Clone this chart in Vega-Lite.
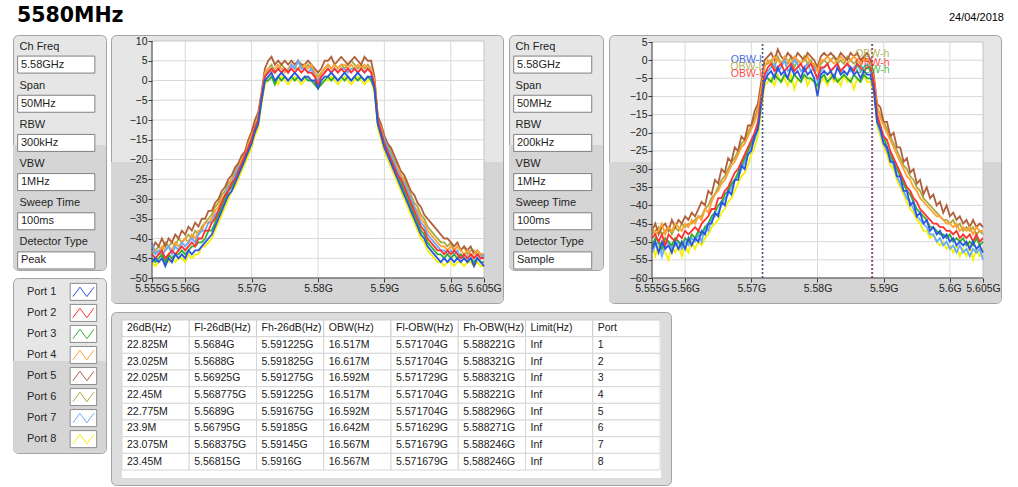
{
"$schema": "https://vega.github.io/schema/vega-lite/v6.json",
"background": "white",
"padding": {"left": 12, "top": 1, "right": 0, "bottom": 0},
"config": {
  "font": "Liberation Sans",
  "view": {"stroke": null},
  "axis": {"domain": false, "grid": false, "ticks": true, "tickColor": "#3a3a3a", "tickSize": 4, "labelFontSize": 10.5, "labelColor": "#1e1e1e", "labelPadding": 1, "labelFlush": false, "labelOverlap": false, "labelBound": false, "zindex": 1}
},
"datasets": {
  "gx": [{"gx": 5.56}, {"gx": 5.57}, {"gx": 5.58}, {"gx": 5.59}, {"gx": 5.6}],
  "gy1": [{"gy": -45}, {"gy": -40}, {"gy": -35}, {"gy": -30}, {"gy": -25}, {"gy": -20}, {"gy": -15}, {"gy": -10}, {"gy": -5}, {"gy": 0}, {"gy": 5}],
  "gy2": [{"gy": -55}, {"gy": -50}, {"gy": -45}, {"gy": -40}, {"gy": -35}, {"gy": -30}, {"gy": -25}, {"gy": -20}, {"gy": -15}, {"gy": -10}, {"gy": -5}, {"gy": 0}],
  "set1": [{"label": "Ch Freq", "val": "5.58GHz"}, {"label": "Span", "val": "50MHz"}, {"label": "RBW", "val": "300kHz"}, {"label": "VBW", "val": "1MHz"}, {"label": "Sweep Time", "val": "100ms"}, {"label": "Detector Type", "val": "Peak"}],
  "set2": [{"label": "Ch Freq", "val": "5.58GHz"}, {"label": "Span", "val": "50MHz"}, {"label": "RBW", "val": "200kHz"}, {"label": "VBW", "val": "1MHz"}, {"label": "Sweep Time", "val": "100ms"}, {"label": "Detector Type", "val": "Sample"}],
  "ports": [{"port": "p1", "name": "Port 1"}, {"port": "p2", "name": "Port 2"}, {"port": "p3", "name": "Port 3"}, {"port": "p4", "name": "Port 4"}, {"port": "p5", "name": "Port 5"}, {"port": "p6", "name": "Port 6"}, {"port": "p7", "name": "Port 7"}, {"port": "p8", "name": "Port 8"}],
  "hdr": [{"r": "h", "c1": "26dB(Hz)", "c2": "Fl-26dB(Hz)", "c3": "Fh-26dB(Hz)", "c4": "OBW(Hz)", "c5": "Fl-OBW(Hz)", "c6": "Fh-OBW(Hz)", "c7": "Limit(Hz)", "c8": "Port"}],
  "tbl": [
    {"r": "1", "port": "p1", "c1": "22.825M", "c2": "5.5684G", "c3": "5.591225G", "c4": "16.517M", "c5": "5.571704G", "c6": "5.588221G", "c7": "Inf", "c8": "1", "fl": 5.571704, "fh": 5.588221},
    {"r": "2", "port": "p2", "c1": "23.025M", "c2": "5.5688G", "c3": "5.591825G", "c4": "16.617M", "c5": "5.571704G", "c6": "5.588321G", "c7": "Inf", "c8": "2", "fl": 5.571704, "fh": 5.588321},
    {"r": "3", "port": "p3", "c1": "22.025M", "c2": "5.56925G", "c3": "5.591275G", "c4": "16.592M", "c5": "5.571729G", "c6": "5.588321G", "c7": "Inf", "c8": "3", "fl": 5.571729, "fh": 5.588321},
    {"r": "4", "port": "p4", "c1": "22.45M", "c2": "5.568775G", "c3": "5.591225G", "c4": "16.517M", "c5": "5.571704G", "c6": "5.588221G", "c7": "Inf", "c8": "4", "fl": 5.571704, "fh": 5.588221},
    {"r": "5", "port": "p5", "c1": "22.775M", "c2": "5.5689G", "c3": "5.591675G", "c4": "16.592M", "c5": "5.571704G", "c6": "5.588296G", "c7": "Inf", "c8": "5", "fl": 5.571704, "fh": 5.588296},
    {"r": "6", "port": "p6", "c1": "23.9M", "c2": "5.56795G", "c3": "5.59185G", "c4": "16.642M", "c5": "5.571629G", "c6": "5.588271G", "c7": "Inf", "c8": "6", "fl": 5.571629, "fh": 5.588271},
    {"r": "7", "port": "p7", "c1": "23.075M", "c2": "5.568375G", "c3": "5.59145G", "c4": "16.567M", "c5": "5.571679G", "c6": "5.588246G", "c7": "Inf", "c8": "7", "fl": 5.571679, "fh": 5.588246},
    {"r": "8", "port": "p8", "c1": "23.45M", "c2": "5.56815G", "c3": "5.5916G", "c4": "16.567M", "c5": "5.571679G", "c6": "5.588246G", "c7": "Inf", "c8": "8", "fl": 5.571679, "fh": 5.588246}
  ],
  "obw": [
    {"lab": "OBW-l", "port": "p1", "f": 5.571704, "v": 0},
    {"lab": "OBW-l", "port": "p6", "f": 5.571629, "v": -1.8},
    {"lab": "OBW-l", "port": "p2", "f": 5.571704, "v": -3.8},
    {"lab": "OBW-h", "port": "p6", "f": 5.588271, "v": 1.7},
    {"lab": "OBW-h", "port": "p2", "f": 5.588321, "v": -0.9},
    {"lab": "OBW-h", "port": "p3", "f": 5.588321, "v": -2.7}
  ],
  "s1": [
    {"f":5.555,"p1":-46,"p2":-44,"p3":-45,"p4":-42,"p5":-43,"p6":-44,"p7":-41,"p8":-46},
    {"f":5.5555,"p1":-45,"p2":-45,"p3":-46,"p4":-43,"p5":-41,"p6":-43,"p7":-44,"p8":-47},
    {"f":5.556,"p1":-46,"p2":-44,"p3":-45,"p4":-44,"p5":-42,"p6":-42,"p7":-43,"p8":-46},
    {"f":5.5565,"p1":-45,"p2":-43,"p3":-44,"p4":-42,"p5":-40,"p6":-43,"p7":-44,"p8":-45},
    {"f":5.557,"p1":-47,"p2":-45,"p3":-46,"p4":-43,"p5":-42,"p6":-41,"p7":-43,"p8":-46},
    {"f":5.5575,"p1":-45,"p2":-44,"p3":-44,"p4":-42,"p5":-40,"p6":-42,"p7":-42,"p8":-46},
    {"f":5.558,"p1":-46,"p2":-43,"p3":-45,"p4":-43,"p5":-41,"p6":-41,"p7":-44,"p8":-45},
    {"f":5.5585,"p1":-44,"p2":-44,"p3":-44,"p4":-41,"p5":-39,"p6":-42,"p7":-42,"p8":-46},
    {"f":5.559,"p1":-45,"p2":-43,"p3":-44,"p4":-42,"p5":-40,"p6":-40,"p7":-43,"p8":-45},
    {"f":5.5595,"p1":-44,"p2":-42,"p3":-43,"p4":-41,"p5":-38,"p6":-41,"p7":-41,"p8":-45},
    {"f":5.56,"p1":-45,"p2":-43,"p3":-44,"p4":-40,"p5":-39,"p6":-40,"p7":-42,"p8":-46},
    {"f":5.5605,"p1":-43,"p2":-42,"p3":-43,"p4":-41,"p5":-37,"p6":-39,"p7":-41,"p8":-44},
    {"f":5.561,"p1":-44,"p2":-41,"p3":-42,"p4":-39,"p5":-38,"p6":-40,"p7":-40,"p8":-45},
    {"f":5.5615,"p1":-43,"p2":-42,"p3":-42,"p4":-40,"p5":-36,"p6":-38,"p7":-41,"p8":-44},
    {"f":5.562,"p1":-43,"p2":-40,"p3":-41,"p4":-38,"p5":-37,"p6":-39,"p7":-39,"p8":-44},
    {"f":5.5625,"p1":-42,"p2":-40,"p3":-41,"p4":-38,"p5":-35,"p6":-37,"p7":-38,"p8":-42},
    {"f":5.563,"p1":-41,"p2":-38,"p3":-40,"p4":-36,"p5":-35,"p6":-36,"p7":-38,"p8":-42},
    {"f":5.5635,"p1":-40,"p2":-38,"p3":-38,"p4":-36,"p5":-33,"p6":-35,"p7":-36,"p8":-41},
    {"f":5.564,"p1":-39,"p2":-36,"p3":-38,"p4":-35,"p5":-33,"p6":-34,"p7":-36,"p8":-40},
    {"f":5.5645,"p1":-37,"p2":-35,"p3":-36,"p4":-33,"p5":-31,"p6":-32,"p7":-34,"p8":-38},
    {"f":5.565,"p1":-35,"p2":-33,"p3":-34,"p4":-32,"p5":-30,"p6":-31,"p7":-33,"p8":-36},
    {"f":5.5655,"p1":-33,"p2":-31,"p3":-32,"p4":-30,"p5":-28,"p6":-29,"p7":-31,"p8":-34},
    {"f":5.566,"p1":-31,"p2":-29,"p3":-30,"p4":-29,"p5":-27,"p6":-28,"p7":-29,"p8":-32},
    {"f":5.5665,"p1":-29,"p2":-28,"p3":-28,"p4":-27,"p5":-25,"p6":-26,"p7":-27,"p8":-30},
    {"f":5.567,"p1":-28,"p2":-26,"p3":-27,"p4":-25,"p5":-24,"p6":-25,"p7":-26,"p8":-28},
    {"f":5.5675,"p1":-26,"p2":-25,"p3":-25,"p4":-24,"p5":-22,"p6":-23,"p7":-24,"p8":-27},
    {"f":5.568,"p1":-24,"p2":-23,"p3":-23,"p4":-22,"p5":-21,"p6":-21,"p7":-22,"p8":-25},
    {"f":5.5685,"p1":-22,"p2":-21,"p3":-22,"p4":-20,"p5":-19,"p6":-20,"p7":-21,"p8":-23},
    {"f":5.569,"p1":-20,"p2":-19,"p3":-20,"p4":-19,"p5":-18,"p6":-18,"p7":-19,"p8":-21},
    {"f":5.5695,"p1":-18,"p2":-17,"p3":-17,"p4":-16,"p5":-15,"p6":-16,"p7":-17,"p8":-19},
    {"f":5.57,"p1":-16,"p2":-15,"p3":-15,"p4":-14,"p5":-13,"p6":-14,"p7":-15,"p8":-17},
    {"f":5.5705,"p1":-13,"p2":-12,"p3":-13,"p4":-12,"p5":-10,"p6":-11,"p7":-12,"p8":-14},
    {"f":5.571,"p1":-11,"p2":-10,"p3":-10,"p4":-9,"p5":-8,"p6":-9,"p7":-10,"p8":-12},
    {"f":5.5715,"p1":-5,"p2":-4,"p3":-5,"p4":-4,"p5":-3,"p6":-4,"p7":-4,"p8":-6},
    {"f":5.572,"p1":0,"p2":1,"p3":0,"p4":2,"p5":3,"p6":1,"p7":1,"p8":-1},
    {"f":5.5725,"p1":1,"p2":2,"p3":0,"p4":3,"p5":5,"p6":3,"p7":2,"p8":0},
    {"f":5.573,"p1":2,"p2":3,"p3":1,"p4":2,"p5":6,"p6":4,"p7":3,"p8":1},
    {"f":5.5735,"p1":0,"p2":2,"p3":-1,"p4":3,"p5":4,"p6":2,"p7":2,"p8":0},
    {"f":5.574,"p1":1,"p2":3,"p3":1,"p4":4,"p5":5,"p6":3,"p7":3,"p8":-1},
    {"f":5.5745,"p1":2,"p2":2,"p3":0,"p4":3,"p5":4,"p6":4,"p7":2,"p8":1},
    {"f":5.575,"p1":1,"p2":3,"p3":1,"p4":2,"p5":5,"p6":3,"p7":3,"p8":0},
    {"f":5.5755,"p1":0,"p2":2,"p3":0,"p4":3,"p5":4,"p6":2,"p7":2,"p8":-1},
    {"f":5.576,"p1":1,"p2":3,"p3":1,"p4":4,"p5":5,"p6":4,"p7":4,"p8":0},
    {"f":5.5765,"p1":2,"p2":2,"p3":0,"p4":3,"p5":4,"p6":3,"p7":3,"p8":1},
    {"f":5.577,"p1":1,"p2":3,"p3":1,"p4":5,"p5":5,"p6":3,"p7":5,"p8":0},
    {"f":5.5775,"p1":0,"p2":2,"p3":0,"p4":3,"p5":4,"p6":4,"p7":3,"p8":-1},
    {"f":5.578,"p1":1,"p2":3,"p3":1,"p4":4,"p5":4,"p6":3,"p7":3,"p8":0},
    {"f":5.5785,"p1":1,"p2":2,"p3":0,"p4":3,"p5":5,"p6":4,"p7":2,"p8":1},
    {"f":5.579,"p1":0,"p2":2,"p3":0,"p4":4,"p5":4,"p6":3,"p7":3,"p8":0},
    {"f":5.5795,"p1":0,"p2":1,"p3":-1,"p4":2,"p5":3,"p6":2,"p7":1,"p8":-1},
    {"f":5.58,"p1":-2,"p2":-1,"p3":-2,"p4":0,"p5":2,"p6":1,"p7":0,"p8":-2},
    {"f":5.5805,"p1":0,"p2":1,"p3":-1,"p4":2,"p5":3,"p6":2,"p7":1,"p8":-1},
    {"f":5.581,"p1":1,"p2":2,"p3":0,"p4":3,"p5":5,"p6":3,"p7":2,"p8":0},
    {"f":5.5815,"p1":1,"p2":3,"p3":1,"p4":4,"p5":5,"p6":4,"p7":3,"p8":0},
    {"f":5.582,"p1":2,"p2":2,"p3":0,"p4":3,"p5":6,"p6":3,"p7":2,"p8":1},
    {"f":5.5825,"p1":1,"p2":3,"p3":1,"p4":4,"p5":4,"p6":4,"p7":3,"p8":0},
    {"f":5.583,"p1":0,"p2":2,"p3":0,"p4":3,"p5":5,"p6":3,"p7":2,"p8":-1},
    {"f":5.5835,"p1":1,"p2":3,"p3":1,"p4":4,"p5":6,"p6":4,"p7":3,"p8":0},
    {"f":5.584,"p1":2,"p2":2,"p3":0,"p4":4,"p5":5,"p6":3,"p7":3,"p8":1},
    {"f":5.5845,"p1":1,"p2":3,"p3":1,"p4":3,"p5":4,"p6":4,"p7":2,"p8":0},
    {"f":5.585,"p1":0,"p2":2,"p3":0,"p4":4,"p5":5,"p6":5,"p7":3,"p8":-1},
    {"f":5.5855,"p1":1,"p2":3,"p3":1,"p4":3,"p5":6,"p6":4,"p7":3,"p8":0},
    {"f":5.586,"p1":2,"p2":2,"p3":0,"p4":4,"p5":5,"p6":3,"p7":2,"p8":1},
    {"f":5.5865,"p1":1,"p2":3,"p3":1,"p4":3,"p5":4,"p6":4,"p7":3,"p8":0},
    {"f":5.587,"p1":0,"p2":2,"p3":0,"p4":4,"p5":6,"p6":3,"p7":2,"p8":-1},
    {"f":5.5875,"p1":1,"p2":3,"p3":1,"p4":3,"p5":5,"p6":4,"p7":3,"p8":0},
    {"f":5.588,"p1":1,"p2":2,"p3":0,"p4":3,"p5":5,"p6":3,"p7":2,"p8":0},
    {"f":5.5885,"p1":-2,"p2":-1,"p3":-2,"p4":0,"p5":1,"p6":0,"p7":-1,"p8":-3},
    {"f":5.589,"p1":-11,"p2":-10,"p3":-11,"p4":-10,"p5":-9,"p6":-9,"p7":-10,"p8":-12},
    {"f":5.5895,"p1":-14,"p2":-13,"p3":-13,"p4":-12,"p5":-11,"p6":-12,"p7":-13,"p8":-15},
    {"f":5.59,"p1":-17,"p2":-16,"p3":-16,"p4":-15,"p5":-14,"p6":-15,"p7":-15,"p8":-18},
    {"f":5.5905,"p1":-19,"p2":-18,"p3":-18,"p4":-17,"p5":-16,"p6":-16,"p7":-17,"p8":-20},
    {"f":5.591,"p1":-21,"p2":-20,"p3":-20,"p4":-19,"p5":-17,"p6":-18,"p7":-19,"p8":-22},
    {"f":5.5915,"p1":-23,"p2":-22,"p3":-22,"p4":-21,"p5":-19,"p6":-20,"p7":-21,"p8":-24},
    {"f":5.592,"p1":-25,"p2":-24,"p3":-24,"p4":-22,"p5":-21,"p6":-22,"p7":-23,"p8":-26},
    {"f":5.5925,"p1":-27,"p2":-25,"p3":-26,"p4":-24,"p5":-23,"p6":-24,"p7":-25,"p8":-28},
    {"f":5.593,"p1":-29,"p2":-27,"p3":-28,"p4":-26,"p5":-24,"p6":-25,"p7":-26,"p8":-30},
    {"f":5.5935,"p1":-31,"p2":-29,"p3":-30,"p4":-28,"p5":-26,"p6":-27,"p7":-28,"p8":-32},
    {"f":5.594,"p1":-33,"p2":-31,"p3":-32,"p4":-30,"p5":-28,"p6":-29,"p7":-30,"p8":-34},
    {"f":5.5945,"p1":-35,"p2":-33,"p3":-34,"p4":-32,"p5":-29,"p6":-31,"p7":-32,"p8":-36},
    {"f":5.595,"p1":-37,"p2":-35,"p3":-36,"p4":-33,"p5":-31,"p6":-32,"p7":-34,"p8":-38},
    {"f":5.5955,"p1":-39,"p2":-37,"p3":-38,"p4":-35,"p5":-32,"p6":-34,"p7":-36,"p8":-40},
    {"f":5.596,"p1":-40,"p2":-38,"p3":-39,"p4":-36,"p5":-34,"p6":-35,"p7":-37,"p8":-41},
    {"f":5.5965,"p1":-42,"p2":-40,"p3":-41,"p4":-38,"p5":-35,"p6":-37,"p7":-39,"p8":-43},
    {"f":5.597,"p1":-43,"p2":-41,"p3":-42,"p4":-39,"p5":-36,"p6":-38,"p7":-40,"p8":-44},
    {"f":5.5975,"p1":-44,"p2":-42,"p3":-43,"p4":-40,"p5":-37,"p6":-39,"p7":-41,"p8":-45},
    {"f":5.598,"p1":-45,"p2":-43,"p3":-44,"p4":-41,"p5":-38,"p6":-40,"p7":-42,"p8":-46},
    {"f":5.5985,"p1":-46,"p2":-43,"p3":-44,"p4":-42,"p5":-39,"p6":-41,"p7":-43,"p8":-46},
    {"f":5.599,"p1":-45,"p2":-44,"p3":-45,"p4":-42,"p5":-40,"p6":-41,"p7":-43,"p8":-47},
    {"f":5.5995,"p1":-46,"p2":-43,"p3":-44,"p4":-43,"p5":-40,"p6":-42,"p7":-44,"p8":-46},
    {"f":5.6,"p1":-45,"p2":-44,"p3":-45,"p4":-42,"p5":-41,"p6":-41,"p7":-43,"p8":-46},
    {"f":5.6005,"p1":-46,"p2":-43,"p3":-44,"p4":-43,"p5":-42,"p6":-43,"p7":-44,"p8":-47},
    {"f":5.601,"p1":-45,"p2":-44,"p3":-45,"p4":-42,"p5":-41,"p6":-42,"p7":-43,"p8":-46},
    {"f":5.6015,"p1":-46,"p2":-45,"p3":-44,"p4":-43,"p5":-43,"p6":-43,"p7":-45,"p8":-46},
    {"f":5.602,"p1":-45,"p2":-44,"p3":-45,"p4":-44,"p5":-42,"p6":-42,"p7":-44,"p8":-47},
    {"f":5.6025,"p1":-46,"p2":-45,"p3":-46,"p4":-43,"p5":-43,"p6":-44,"p7":-45,"p8":-46},
    {"f":5.603,"p1":-45,"p2":-44,"p3":-45,"p4":-44,"p5":-42,"p6":-43,"p7":-44,"p8":-46},
    {"f":5.6035,"p1":-47,"p2":-45,"p3":-46,"p4":-44,"p5":-44,"p6":-43,"p7":-45,"p8":-47},
    {"f":5.604,"p1":-45,"p2":-44,"p3":-45,"p4":-43,"p5":-43,"p6":-44,"p7":-44,"p8":-46},
    {"f":5.6045,"p1":-46,"p2":-45,"p3":-46,"p4":-44,"p5":-44,"p6":-44,"p7":-45,"p8":-47},
    {"f":5.605,"p1":-47,"p2":-45,"p3":-46,"p4":-44,"p5":-44,"p6":-45,"p7":-44,"p8":-47}
  ],
  "s2": [
    {"f":5.555,"p1":-52,"p2":-49,"p3":-51,"p4":-46,"p5":-47,"p6":-48,"p7":-53,"p8":-50},
    {"f":5.5555,"p1":-50,"p2":-48,"p3":-49,"p4":-48,"p5":-45,"p6":-47,"p7":-51,"p8":-54},
    {"f":5.556,"p1":-53,"p2":-50,"p3":-50,"p4":-47,"p5":-48,"p6":-46,"p7":-50,"p8":-51},
    {"f":5.5565,"p1":-50,"p2":-48,"p3":-52,"p4":-45,"p5":-46,"p6":-48,"p7":-54,"p8":-50},
    {"f":5.557,"p1":-52,"p2":-51,"p3":-49,"p4":-48,"p5":-45,"p6":-47,"p7":-51,"p8":-53},
    {"f":5.5575,"p1":-51,"p2":-48,"p3":-50,"p4":-46,"p5":-47,"p6":-46,"p7":-50,"p8":-55},
    {"f":5.558,"p1":-53,"p2":-49,"p3":-51,"p4":-47,"p5":-44,"p6":-48,"p7":-52,"p8":-51},
    {"f":5.5585,"p1":-50,"p2":-50,"p3":-49,"p4":-45,"p5":-46,"p6":-46,"p7":-51,"p8":-53},
    {"f":5.559,"p1":-52,"p2":-48,"p3":-50,"p4":-46,"p5":-44,"p6":-47,"p7":-50,"p8":-51},
    {"f":5.5595,"p1":-50,"p2":-49,"p3":-51,"p4":-47,"p5":-45,"p6":-45,"p7":-52,"p8":-54},
    {"f":5.56,"p1":-52,"p2":-47,"p3":-49,"p4":-45,"p5":-43,"p6":-46,"p7":-50,"p8":-51},
    {"f":5.5605,"p1":-49,"p2":-48,"p3":-50,"p4":-46,"p5":-44,"p6":-45,"p7":-51,"p8":-53},
    {"f":5.561,"p1":-51,"p2":-47,"p3":-48,"p4":-44,"p5":-42,"p6":-45,"p7":-49,"p8":-50},
    {"f":5.5615,"p1":-49,"p2":-46,"p3":-49,"p4":-45,"p5":-43,"p6":-44,"p7":-50,"p8":-52},
    {"f":5.562,"p1":-50,"p2":-47,"p3":-47,"p4":-43,"p5":-41,"p6":-43,"p7":-48,"p8":-50},
    {"f":5.5625,"p1":-47,"p2":-45,"p3":-48,"p4":-44,"p5":-39,"p6":-43,"p7":-50,"p8":-51},
    {"f":5.563,"p1":-48,"p2":-44,"p3":-46,"p4":-41,"p5":-40,"p6":-41,"p7":-46,"p8":-49},
    {"f":5.5635,"p1":-45,"p2":-43,"p3":-45,"p4":-42,"p5":-36,"p6":-40,"p7":-47,"p8":-48},
    {"f":5.564,"p1":-45,"p2":-41,"p3":-43,"p4":-39,"p5":-37,"p6":-38,"p7":-44,"p8":-46},
    {"f":5.5645,"p1":-42,"p2":-41,"p3":-42,"p4":-37,"p5":-33,"p6":-37,"p7":-43,"p8":-45},
    {"f":5.565,"p1":-43,"p2":-38,"p3":-40,"p4":-36,"p5":-34,"p6":-35,"p7":-42,"p8":-44},
    {"f":5.5655,"p1":-39,"p2":-38,"p3":-39,"p4":-34,"p5":-30,"p6":-33,"p7":-40,"p8":-42},
    {"f":5.566,"p1":-40,"p2":-36,"p3":-37,"p4":-33,"p5":-31,"p6":-32,"p7":-38,"p8":-41},
    {"f":5.5665,"p1":-36,"p2":-35,"p3":-36,"p4":-31,"p5":-27,"p6":-30,"p7":-37,"p8":-39},
    {"f":5.567,"p1":-37,"p2":-33,"p3":-34,"p4":-29,"p5":-28,"p6":-28,"p7":-35,"p8":-38},
    {"f":5.5675,"p1":-33,"p2":-31,"p3":-33,"p4":-28,"p5":-24,"p6":-27,"p7":-33,"p8":-36},
    {"f":5.568,"p1":-33,"p2":-30,"p3":-31,"p4":-26,"p5":-25,"p6":-25,"p7":-32,"p8":-34},
    {"f":5.5685,"p1":-29,"p2":-28,"p3":-29,"p4":-24,"p5":-21,"p6":-23,"p7":-30,"p8":-32},
    {"f":5.569,"p1":-30,"p2":-26,"p3":-27,"p4":-23,"p5":-22,"p6":-22,"p7":-28,"p8":-31},
    {"f":5.5695,"p1":-26,"p2":-24,"p3":-25,"p4":-21,"p5":-18,"p6":-20,"p7":-26,"p8":-29},
    {"f":5.57,"p1":-25,"p2":-22,"p3":-23,"p4":-19,"p5":-18,"p6":-18,"p7":-24,"p8":-26},
    {"f":5.5705,"p1":-21,"p2":-20,"p3":-21,"p4":-17,"p5":-14,"p6":-16,"p7":-22,"p8":-24},
    {"f":5.571,"p1":-19,"p2":-17,"p3":-18,"p4":-14,"p5":-12,"p6":-13,"p7":-19,"p8":-21},
    {"f":5.5715,"p1":-12,"p2":-10,"p3":-11,"p4":-8,"p5":-6,"p6":-7,"p7":-12,"p8":-14},
    {"f":5.572,"p1":-6,"p2":-4,"p3":-5,"p4":-2,"p5":0,"p6":-1,"p7":-5,"p8":-7},
    {"f":5.5725,"p1":-4,"p2":-2,"p3":-5,"p4":0,"p5":1,"p6":-1,"p7":-3,"p8":-6},
    {"f":5.573,"p1":-3,"p2":-1,"p3":-6,"p4":-1,"p5":2,"p6":0,"p7":-2,"p8":-5},
    {"f":5.5735,"p1":-5,"p2":-3,"p3":-4,"p4":1,"p5":0,"p6":-2,"p7":-1,"p8":-7},
    {"f":5.574,"p1":-2,"p2":-2,"p3":-5,"p4":0,"p5":3,"p6":1,"p7":-3,"p8":-4},
    {"f":5.5745,"p1":-4,"p2":-1,"p3":-6,"p4":-1,"p5":1,"p6":-1,"p7":-2,"p8":-6},
    {"f":5.575,"p1":-3,"p2":-3,"p3":-4,"p4":1,"p5":0,"p6":0,"p7":0,"p8":-5},
    {"f":5.5755,"p1":-5,"p2":-2,"p3":-5,"p4":0,"p5":2,"p6":-1,"p7":-3,"p8":-7},
    {"f":5.576,"p1":-2,"p2":-1,"p3":-6,"p4":-1,"p5":1,"p6":1,"p7":-2,"p8":-4},
    {"f":5.5765,"p1":-4,"p2":-3,"p3":-4,"p4":1,"p5":0,"p6":-2,"p7":0,"p8":-8},
    {"f":5.577,"p1":-3,"p2":-2,"p3":-5,"p4":0,"p5":2,"p6":0,"p7":-1,"p8":-5},
    {"f":5.5775,"p1":-5,"p2":-1,"p3":-6,"p4":-1,"p5":1,"p6":-1,"p7":-3,"p8":-6},
    {"f":5.578,"p1":-2,"p2":-3,"p3":-4,"p4":0,"p5":0,"p6":1,"p7":-2,"p8":-4},
    {"f":5.5785,"p1":-4,"p2":-2,"p3":-5,"p4":1,"p5":2,"p6":-1,"p7":-1,"p8":-7},
    {"f":5.579,"p1":-3,"p2":-1,"p3":-5,"p4":-1,"p5":1,"p6":0,"p7":-3,"p8":-5},
    {"f":5.5795,"p1":-5,"p2":-3,"p3":-6,"p4":-1,"p5":0,"p6":-2,"p7":-2,"p8":-6},
    {"f":5.58,"p1":-10,"p2":-5,"p3":-7,"p4":-3,"p5":-2,"p6":-3,"p7":-6,"p8":-8},
    {"f":5.5805,"p1":-4,"p2":-2,"p3":-5,"p4":0,"p5":1,"p6":-1,"p7":-3,"p8":-6},
    {"f":5.581,"p1":-3,"p2":-2,"p3":-4,"p4":0,"p5":2,"p6":0,"p7":-2,"p8":-5},
    {"f":5.5815,"p1":-4,"p2":-1,"p3":-6,"p4":1,"p5":1,"p6":-1,"p7":-1,"p8":-7},
    {"f":5.582,"p1":-3,"p2":-3,"p3":-5,"p4":0,"p5":2,"p6":0,"p7":-3,"p8":-4},
    {"f":5.5825,"p1":-5,"p2":-2,"p3":-4,"p4":-1,"p5":1,"p6":1,"p7":-2,"p8":-6},
    {"f":5.583,"p1":-2,"p2":-1,"p3":-6,"p4":0,"p5":0,"p6":-1,"p7":-1,"p8":-5},
    {"f":5.5835,"p1":-4,"p2":-3,"p3":-5,"p4":1,"p5":2,"p6":0,"p7":-3,"p8":-7},
    {"f":5.584,"p1":-3,"p2":-2,"p3":-4,"p4":0,"p5":1,"p6":-1,"p7":-2,"p8":-4},
    {"f":5.5845,"p1":-4,"p2":-1,"p3":-5,"p4":-1,"p5":0,"p6":1,"p7":-1,"p8":-6},
    {"f":5.585,"p1":-2,"p2":-2,"p3":-6,"p4":0,"p5":2,"p6":0,"p7":-3,"p8":-5},
    {"f":5.5855,"p1":-4,"p2":-3,"p3":-4,"p4":1,"p5":1,"p6":-1,"p7":-2,"p8":-8},
    {"f":5.586,"p1":-3,"p2":-1,"p3":-5,"p4":0,"p5":2,"p6":0,"p7":-1,"p8":-5},
    {"f":5.5865,"p1":-5,"p2":-2,"p3":-6,"p4":-1,"p5":0,"p6":-1,"p7":-3,"p8":-6},
    {"f":5.587,"p1":-3,"p2":-3,"p3":-4,"p4":0,"p5":1,"p6":1,"p7":-2,"p8":-4},
    {"f":5.5875,"p1":-4,"p2":-2,"p3":-5,"p4":0,"p5":2,"p6":0,"p7":-1,"p8":-6},
    {"f":5.588,"p1":-4,"p2":-2,"p3":-5,"p4":-1,"p5":0,"p6":-1,"p7":-3,"p8":-6},
    {"f":5.5885,"p1":-8,"p2":-6,"p3":-7,"p4":-5,"p5":-4,"p6":-5,"p7":-7,"p8":-9},
    {"f":5.589,"p1":-17,"p2":-15,"p3":-16,"p4":-13,"p5":-12,"p6":-13,"p7":-17,"p8":-18},
    {"f":5.5895,"p1":-19,"p2":-18,"p3":-19,"p4":-16,"p5":-13,"p6":-15,"p7":-20,"p8":-21},
    {"f":5.59,"p1":-23,"p2":-21,"p3":-21,"p4":-18,"p5":-17,"p6":-17,"p7":-23,"p8":-24},
    {"f":5.5905,"p1":-24,"p2":-22,"p3":-24,"p4":-20,"p5":-17,"p6":-19,"p7":-25,"p8":-26},
    {"f":5.591,"p1":-28,"p2":-25,"p3":-26,"p4":-22,"p5":-21,"p6":-21,"p7":-27,"p8":-29},
    {"f":5.5915,"p1":-28,"p2":-27,"p3":-28,"p4":-24,"p5":-20,"p6":-23,"p7":-29,"p8":-30},
    {"f":5.592,"p1":-32,"p2":-29,"p3":-30,"p4":-26,"p5":-24,"p6":-25,"p7":-32,"p8":-33},
    {"f":5.5925,"p1":-32,"p2":-31,"p3":-32,"p4":-28,"p5":-24,"p6":-27,"p7":-34,"p8":-35},
    {"f":5.593,"p1":-36,"p2":-33,"p3":-34,"p4":-30,"p5":-28,"p6":-29,"p7":-36,"p8":-37},
    {"f":5.5935,"p1":-36,"p2":-35,"p3":-36,"p4":-32,"p5":-27,"p6":-30,"p7":-38,"p8":-39},
    {"f":5.594,"p1":-40,"p2":-36,"p3":-37,"p4":-33,"p5":-31,"p6":-32,"p7":-39,"p8":-41},
    {"f":5.5945,"p1":-39,"p2":-38,"p3":-39,"p4":-35,"p5":-30,"p6":-33,"p7":-41,"p8":-42},
    {"f":5.595,"p1":-43,"p2":-39,"p3":-41,"p4":-36,"p5":-34,"p6":-35,"p7":-43,"p8":-44},
    {"f":5.5955,"p1":-42,"p2":-41,"p3":-42,"p4":-38,"p5":-33,"p6":-36,"p7":-44,"p8":-45},
    {"f":5.596,"p1":-45,"p2":-42,"p3":-43,"p4":-39,"p5":-37,"p6":-38,"p7":-45,"p8":-47},
    {"f":5.5965,"p1":-44,"p2":-43,"p3":-44,"p4":-40,"p5":-35,"p6":-39,"p7":-46,"p8":-47},
    {"f":5.597,"p1":-47,"p2":-44,"p3":-46,"p4":-41,"p5":-38,"p6":-40,"p7":-48,"p8":-49},
    {"f":5.5975,"p1":-46,"p2":-45,"p3":-46,"p4":-42,"p5":-37,"p6":-41,"p7":-48,"p8":-48},
    {"f":5.598,"p1":-48,"p2":-45,"p3":-47,"p4":-43,"p5":-40,"p6":-42,"p7":-50,"p8":-50},
    {"f":5.5985,"p1":-47,"p2":-46,"p3":-48,"p4":-43,"p5":-39,"p6":-43,"p7":-49,"p8":-51},
    {"f":5.599,"p1":-49,"p2":-46,"p3":-48,"p4":-44,"p5":-42,"p6":-44,"p7":-51,"p8":-50},
    {"f":5.5995,"p1":-48,"p2":-47,"p3":-49,"p4":-45,"p5":-40,"p6":-44,"p7":-50,"p8":-52},
    {"f":5.6,"p1":-50,"p2":-47,"p3":-48,"p4":-45,"p5":-43,"p6":-45,"p7":-52,"p8":-51},
    {"f":5.6005,"p1":-49,"p2":-48,"p3":-50,"p4":-46,"p5":-42,"p6":-44,"p7":-51,"p8":-53},
    {"f":5.601,"p1":-51,"p2":-47,"p3":-49,"p4":-45,"p5":-44,"p6":-46,"p7":-53,"p8":-51},
    {"f":5.6015,"p1":-50,"p2":-49,"p3":-50,"p4":-47,"p5":-43,"p6":-45,"p7":-51,"p8":-54},
    {"f":5.602,"p1":-51,"p2":-48,"p3":-49,"p4":-46,"p5":-45,"p6":-47,"p7":-53,"p8":-52},
    {"f":5.6025,"p1":-50,"p2":-49,"p3":-51,"p4":-47,"p5":-44,"p6":-46,"p7":-52,"p8":-54},
    {"f":5.603,"p1":-52,"p2":-48,"p3":-50,"p4":-46,"p5":-46,"p6":-47,"p7":-54,"p8":-51},
    {"f":5.6035,"p1":-50,"p2":-50,"p3":-51,"p4":-48,"p5":-44,"p6":-46,"p7":-52,"p8":-55},
    {"f":5.604,"p1":-52,"p2":-48,"p3":-49,"p4":-46,"p5":-46,"p6":-48,"p7":-53,"p8":-52},
    {"f":5.6045,"p1":-51,"p2":-50,"p3":-51,"p4":-47,"p5":-45,"p6":-47,"p7":-52,"p8":-54},
    {"f":5.605,"p1":-53,"p2":-49,"p3":-50,"p4":-47,"p5":-46,"p6":-48,"p7":-55,"p8":-52}
  ]
},
"resolve": {"scale": {"x": "independent", "y": "independent"}},
"spacing": 3,
"vconcat": [
  {
    "width": 992, "height": 30,
    "data": {"values": [{"t": "5580MHz", "d": "24/04/2018"}]},
    "layer": [
      {"mark": {"type": "text", "align": "left", "baseline": "middle", "font": "DejaVu Sans", "fontWeight": "bold", "fontSize": 20.5, "dx": 4, "color": "#000000"},
       "encoding": {"x": {"datum": 0, "type": "quantitative", "scale": {"domain": [0, 1]}, "axis": null}, "text": {"field": "t"}}},
      {"mark": {"type": "text", "align": "right", "baseline": "middle", "fontSize": 11, "dx": -1, "dy": 2, "color": "#000000"},
       "encoding": {"x": {"datum": 1, "type": "quantitative"}, "text": {"field": "d"}}}
    ]
  },
  {
    "spacing": 3,
    "resolve": {"scale": {"x": "independent", "y": "independent"}},
    "hconcat": [
      {
        "spacing": 6,
        "resolve": {"scale": {"x": "independent", "y": "independent"}},
        "vconcat": [
          {
            "width": 93, "height": 235,
            "view": {"fill": "#e6e6e6", "stroke": "#a3a3a3", "cornerRadius": 5},
            "resolve": {"scale": {"x": "independent", "y": "independent"}},
            "layer": [
              {"data": {"values": [{}]}, "mark": {"type": "rect", "fill": "#d5d5d5", "cornerRadiusBottomLeft": 5, "cornerRadiusBottomRight": 5},
               "encoding": {"x": {"datum": 0, "type": "quantitative", "scale": {"domain": [0, 1]}, "axis": null}, "x2": {"datum": 1}, "y": {"datum": 0, "type": "quantitative", "scale": {"domain": [0, 1]}, "axis": null}, "y2": {"datum": 0.532}}},
              {"data": {"name": "set1"},
               "layer": [
                 {"mark": {"type": "text", "align": "left", "baseline": "middle", "dy": -8, "fontSize": 11, "color": "#1e1e1e"},
                  "encoding": {"x": {"datum": 0.07, "type": "quantitative", "scale": {"domain": [0, 1]}, "axis": null}, "y": {"field": "label", "type": "nominal", "sort": null, "scale": {"type": "band", "paddingInner": 0, "paddingOuter": 0}, "axis": null}, "text": {"field": "label"}}},
                 {"mark": {"type": "rect", "fill": "white", "stroke": "#808080", "strokeWidth": 1, "height": 17, "yOffset": 10},
                  "encoding": {"x": {"datum": 0.05, "type": "quantitative"}, "x2": {"datum": 0.88}, "y": {"field": "label", "type": "nominal", "sort": null}}},
                 {"mark": {"type": "text", "align": "left", "baseline": "middle", "dy": 10, "fontSize": 11, "color": "#1e1e1e"},
                  "encoding": {"x": {"datum": 0.085, "type": "quantitative"}, "y": {"field": "label", "type": "nominal", "sort": null}, "text": {"field": "val"}}}
               ]}
            ]
          },
          {
            "width": 93, "height": 175,
            "view": {"fill": "#e6e6e6", "stroke": "#a3a3a3", "cornerRadius": 5},
            "resolve": {"scale": {"x": "independent", "y": "independent"}},
            "layer": [
              {"data": {"values": [{}]}, "mark": {"type": "rect", "fill": "#d5d5d5", "cornerRadiusBottomLeft": 5, "cornerRadiusBottomRight": 5},
               "encoding": {"x": {"datum": 0, "type": "quantitative", "scale": {"domain": [0, 1]}, "axis": null}, "x2": {"datum": 1}, "y": {"datum": 0, "type": "quantitative", "scale": {"domain": [0, 1]}, "axis": null}, "y2": {"datum": 0.526}}},
              {"data": {"name": "ports"},
               "layer": [
                 {"mark": {"type": "text", "align": "left", "baseline": "middle", "fontSize": 11, "color": "#262626"},
                  "encoding": {"x": {"datum": 0.15, "type": "quantitative", "scale": {"domain": [0, 1]}, "axis": null}, "y": {"field": "name", "type": "nominal", "sort": null, "scale": {"type": "band", "paddingInner": 0, "paddingOuter": 0.16}, "axis": null}, "text": {"field": "name"}}},
                 {"mark": {"type": "rect", "fill": "white", "stroke": "#8c8c8c", "strokeWidth": 1, "height": 17},
                  "encoding": {"x": {"datum": 0.615, "type": "quantitative"}, "x2": {"datum": 0.9}, "y": {"field": "name", "type": "nominal", "sort": null}}},
                 {"mark": {"type": "point", "shape": "M-1,0.45L-0.33,-0.45L0.33,0.45L1,-0.45", "filled": false, "size": 441, "strokeWidth": 1, "opacity": 1},
                  "encoding": {"x": {"datum": 0.757, "type": "quantitative"}, "y": {"field": "name", "type": "nominal", "sort": null},
                    "color": {"field": "port", "type": "nominal", "scale": {"domain": ["p1","p2","p3","p4","p5","p6","p7","p8"], "range": ["#2a55e0","#ff3030","#2fb02f","#ffa030","#b0603a","#aaaa40","#66aaff","#f5f000"]}, "legend": null}}}
               ]}
            ]
          }
        ]
      },
      {
        "spacing": 7,
        "resolve": {"scale": {"x": "independent", "y": "independent"}},
        "vconcat": [
          {
            "spacing": 4,
            "resolve": {"scale": {"x": "independent", "y": "independent"}},
            "hconcat": [
              {
                "width": 392, "height": 268,
                "view": {"fill": "#e6e6e6", "stroke": "#a3a3a3", "cornerRadius": 5},
                "resolve": {"scale": {"x": "independent", "y": "independent"}},
                "layer": [
                  {"data": {"values": [{}]}, "mark": {"type": "rect", "fill": "#d5d5d5", "cornerRadiusBottomLeft": 5, "cornerRadiusBottomRight": 5},
                   "encoding": {"x": {"datum": 0, "type": "quantitative", "scale": {"domain": [0, 1]}, "axis": null}, "x2": {"datum": 1}, "y": {"datum": 0, "type": "quantitative", "scale": {"domain": [0, 1]}, "axis": null}, "y2": {"datum": 0.526}}},
                  {"layer": [
                    {"data": {"values": [{}]}, "mark": {"type": "rect", "fill": "white", "stroke": "#c4c4c4", "strokeWidth": 1},
                     "encoding": {
                       "x": {"datum": 5.555, "type": "quantitative", "scale": {"domain": [5.548825, 5.607861], "nice": false, "zero": false}, "axis": {"title": null, "zindex": 2, "labelOverlap": false, "values": [5.555, 5.56, 5.57, 5.58, 5.59, 5.6, 5.605], "offset": -25, "labelExpr": "format(datum.value, '.3~f') + 'G'"}},
                       "x2": {"datum": 5.605},
                       "y": {"datum": -50, "type": "quantitative", "scale": {"domain": [-56.329, 11.519], "nice": false, "zero": false}, "axis": {"title": null, "zindex": 2, "labelOverlap": false, "values": [-50, -45, -40, -35, -30, -25, -20, -15, -10, -5, 0, 5, 10], "offset": -41}},
                       "y2": {"datum": 10}}},
                    {"data": {"name": "gx"}, "mark": {"type": "rule", "color": "#d9d9d9"},
                     "encoding": {"x": {"field": "gx", "type": "quantitative", "axis": {"title": null, "zindex": 2, "labelOverlap": false, "values": [5.555, 5.56, 5.57, 5.58, 5.59, 5.6, 5.605], "offset": -25, "labelExpr": "format(datum.value, '.3~f') + 'G'"}}, "y": {"datum": -50, "type": "quantitative", "axis": {"title": null, "zindex": 2, "labelOverlap": false, "values": [-50, -45, -40, -35, -30, -25, -20, -15, -10, -5, 0, 5, 10], "offset": -41}}, "y2": {"datum": 10}}},
                    {"data": {"name": "gy1"}, "mark": {"type": "rule", "color": "#d9d9d9"},
                     "encoding": {"y": {"field": "gy", "type": "quantitative", "axis": {"title": null, "zindex": 2, "labelOverlap": false, "values": [-50, -45, -40, -35, -30, -25, -20, -15, -10, -5, 0, 5, 10], "offset": -41}}, "x": {"datum": 5.555, "type": "quantitative", "axis": {"title": null, "zindex": 2, "labelOverlap": false, "values": [5.555, 5.56, 5.57, 5.58, 5.59, 5.6, 5.605], "offset": -25, "labelExpr": "format(datum.value, '.3~f') + 'G'"}}, "x2": {"datum": 5.605}}},
                    {"data": {"name": "s1"}, "transform": [{"fold": ["p8","p6","p5","p4","p7","p3","p2","p1"], "as": ["port", "v"]}],
                     "mark": {"type": "line", "strokeWidth": 1.8},
                     "encoding": {"x": {"field": "f", "type": "quantitative", "axis": {"title": null, "zindex": 2, "labelOverlap": false, "values": [5.555, 5.56, 5.57, 5.58, 5.59, 5.6, 5.605], "offset": -25, "labelExpr": "format(datum.value, '.3~f') + 'G'"}}, "y": {"field": "v", "type": "quantitative", "axis": {"title": null, "zindex": 2, "labelOverlap": false, "values": [-50, -45, -40, -35, -30, -25, -20, -15, -10, -5, 0, 5, 10], "offset": -41}},
                       "color": {"field": "port", "type": "nominal", "scale": {"domain": ["p1","p2","p3","p4","p5","p6","p7","p8"], "range": ["#0a3ed6","#ff0000","#00a000","#ff9c00","#a33c00","#a0a000","#5fa8ff","#ffff00"]}, "legend": null}}},
                    {"data": {"values": [{}]}, "mark": {"type": "rule", "color": "#4d4d4d"},
                     "encoding": {"x": {"datum": 5.555, "type": "quantitative", "axis": {"title": null, "zindex": 2, "labelOverlap": false, "values": [5.555, 5.56, 5.57, 5.58, 5.59, 5.6, 5.605], "offset": -25, "labelExpr": "format(datum.value, '.3~f') + 'G'"}}, "y": {"datum": -50, "type": "quantitative", "axis": {"title": null, "zindex": 2, "labelOverlap": false, "values": [-50, -45, -40, -35, -30, -25, -20, -15, -10, -5, 0, 5, 10], "offset": -41}}, "y2": {"datum": 10}}},
                    {"data": {"values": [{}]}, "mark": {"type": "rule", "color": "#4d4d4d"},
                     "encoding": {"y": {"datum": -50, "type": "quantitative", "axis": {"title": null, "zindex": 2, "labelOverlap": false, "values": [-50, -45, -40, -35, -30, -25, -20, -15, -10, -5, 0, 5, 10], "offset": -41}}, "x": {"datum": 5.555, "type": "quantitative", "axis": {"title": null, "zindex": 2, "labelOverlap": false, "values": [5.555, 5.56, 5.57, 5.58, 5.59, 5.6, 5.605], "offset": -25, "labelExpr": "format(datum.value, '.3~f') + 'G'"}}, "x2": {"datum": 5.605}}}
                  ]}
                ]
              },
              {
                "width": 94, "height": 235,
                "view": {"fill": "#e6e6e6", "stroke": "#a3a3a3", "cornerRadius": 5},
                "resolve": {"scale": {"x": "independent", "y": "independent"}},
                "layer": [
                  {"data": {"values": [{}]}, "mark": {"type": "rect", "fill": "#d5d5d5", "cornerRadiusBottomLeft": 5, "cornerRadiusBottomRight": 5},
                   "encoding": {"x": {"datum": 0, "type": "quantitative", "scale": {"domain": [0, 1]}, "axis": null}, "x2": {"datum": 1}, "y": {"datum": 0, "type": "quantitative", "scale": {"domain": [0, 1]}, "axis": null}, "y2": {"datum": 0.532}}},
                  {"data": {"name": "set2"},
                   "layer": [
                     {"mark": {"type": "text", "align": "left", "baseline": "middle", "dy": -8, "fontSize": 11, "color": "#1e1e1e"},
                      "encoding": {"x": {"datum": 0.07, "type": "quantitative", "scale": {"domain": [0, 1]}, "axis": null}, "y": {"field": "label", "type": "nominal", "sort": null, "scale": {"type": "band", "paddingInner": 0, "paddingOuter": 0}, "axis": null}, "text": {"field": "label"}}},
                     {"mark": {"type": "rect", "fill": "white", "stroke": "#808080", "strokeWidth": 1, "height": 17, "yOffset": 10},
                      "encoding": {"x": {"datum": 0.05, "type": "quantitative"}, "x2": {"datum": 0.88}, "y": {"field": "label", "type": "nominal", "sort": null}}},
                     {"mark": {"type": "text", "align": "left", "baseline": "middle", "dy": 10, "fontSize": 11, "color": "#1e1e1e"},
                      "encoding": {"x": {"datum": 0.085, "type": "quantitative"}, "y": {"field": "label", "type": "nominal", "sort": null}, "text": {"field": "val"}}}
                   ]}
                ]
              },
              {
                "width": 392, "height": 268,
                "view": {"fill": "#e6e6e6", "stroke": "#a3a3a3", "cornerRadius": 5},
                "resolve": {"scale": {"x": "independent", "y": "independent"}},
                "layer": [
                  {"data": {"values": [{}]}, "mark": {"type": "rect", "fill": "#d5d5d5", "cornerRadiusBottomLeft": 5, "cornerRadiusBottomRight": 5},
                   "encoding": {"x": {"datum": 0, "type": "quantitative", "scale": {"domain": [0, 1]}, "axis": null}, "x2": {"datum": 1}, "y": {"datum": 0, "type": "quantitative", "scale": {"domain": [0, 1]}, "axis": null}, "y2": {"datum": 0.526}}},
                  {"layer": [
                    {"data": {"values": [{}]}, "mark": {"type": "rect", "fill": "white", "stroke": "#c4c4c4", "strokeWidth": 1},
                     "encoding": {
                       "x": {"datum": 5.555, "type": "quantitative", "scale": {"domain": [5.548505, 5.607719], "nice": false, "zero": false}, "axis": {"title": null, "zindex": 2, "labelOverlap": false, "values": [5.555, 5.56, 5.57, 5.58, 5.59, 5.6, 5.605], "offset": -25, "labelExpr": "format(datum.value, '.3~f') + 'G'"}},
                       "x2": {"datum": 5.605},
                       "y": {"datum": -60, "type": "quantitative", "scale": {"domain": [-66.885, 6.928], "nice": false, "zero": false}, "axis": {"title": null, "zindex": 2, "labelOverlap": false, "values": [-60, -55, -50, -45, -40, -35, -30, -25, -20, -15, -10, -5, 0, 5], "offset": -43}},
                       "y2": {"datum": 5}}},
                    {"data": {"name": "gx"}, "mark": {"type": "rule", "color": "#d9d9d9"},
                     "encoding": {"x": {"field": "gx", "type": "quantitative", "axis": {"title": null, "zindex": 2, "labelOverlap": false, "values": [5.555, 5.56, 5.57, 5.58, 5.59, 5.6, 5.605], "offset": -25, "labelExpr": "format(datum.value, '.3~f') + 'G'"}}, "y": {"datum": -60, "type": "quantitative", "axis": {"title": null, "zindex": 2, "labelOverlap": false, "values": [-60, -55, -50, -45, -40, -35, -30, -25, -20, -15, -10, -5, 0, 5], "offset": -43}}, "y2": {"datum": 5}}},
                    {"data": {"name": "gy2"}, "mark": {"type": "rule", "color": "#d9d9d9"},
                     "encoding": {"y": {"field": "gy", "type": "quantitative", "axis": {"title": null, "zindex": 2, "labelOverlap": false, "values": [-60, -55, -50, -45, -40, -35, -30, -25, -20, -15, -10, -5, 0, 5], "offset": -43}}, "x": {"datum": 5.555, "type": "quantitative", "axis": {"title": null, "zindex": 2, "labelOverlap": false, "values": [5.555, 5.56, 5.57, 5.58, 5.59, 5.6, 5.605], "offset": -25, "labelExpr": "format(datum.value, '.3~f') + 'G'"}}, "x2": {"datum": 5.605}}},
                    {"data": {"name": "s2"}, "transform": [{"fold": ["p8","p6","p5","p4","p7","p3","p2","p1"], "as": ["port", "v"]}],
                     "mark": {"type": "line", "strokeWidth": 1.8},
                     "encoding": {"x": {"field": "f", "type": "quantitative", "axis": {"title": null, "zindex": 2, "labelOverlap": false, "values": [5.555, 5.56, 5.57, 5.58, 5.59, 5.6, 5.605], "offset": -25, "labelExpr": "format(datum.value, '.3~f') + 'G'"}}, "y": {"field": "v", "type": "quantitative", "axis": {"title": null, "zindex": 2, "labelOverlap": false, "values": [-60, -55, -50, -45, -40, -35, -30, -25, -20, -15, -10, -5, 0, 5], "offset": -43}},
                       "color": {"field": "port", "type": "nominal", "scale": {"domain": ["p1","p2","p3","p4","p5","p6","p7","p8"], "range": ["#0a3ed6","#ff0000","#00a000","#ff9c00","#a33c00","#a0a000","#5fa8ff","#ffff00"]}, "legend": null}}},
                    {"data": {"name": "tbl"}, "mark": {"type": "rule", "strokeDash": [2, 2], "strokeWidth": 1},
                     "encoding": {"x": {"field": "fl", "type": "quantitative", "axis": {"title": null, "zindex": 2, "labelOverlap": false, "values": [5.555, 5.56, 5.57, 5.58, 5.59, 5.6, 5.605], "offset": -25, "labelExpr": "format(datum.value, '.3~f') + 'G'"}}, "y": {"datum": -60, "type": "quantitative", "axis": {"title": null, "zindex": 2, "labelOverlap": false, "values": [-60, -55, -50, -45, -40, -35, -30, -25, -20, -15, -10, -5, 0, 5], "offset": -43}}, "y2": {"datum": 5}, "color": {"field": "port", "type": "nominal", "legend": null}, "order": {"field": "r", "sort": "descending"}}},
                    {"data": {"name": "tbl"}, "mark": {"type": "rule", "strokeDash": [2, 2], "strokeWidth": 1},
                     "encoding": {"x": {"field": "fh", "type": "quantitative", "axis": {"title": null, "zindex": 2, "labelOverlap": false, "values": [5.555, 5.56, 5.57, 5.58, 5.59, 5.6, 5.605], "offset": -25, "labelExpr": "format(datum.value, '.3~f') + 'G'"}}, "y": {"datum": -60, "type": "quantitative", "axis": {"title": null, "zindex": 2, "labelOverlap": false, "values": [-60, -55, -50, -45, -40, -35, -30, -25, -20, -15, -10, -5, 0, 5], "offset": -43}}, "y2": {"datum": 5}, "color": {"field": "port", "type": "nominal", "legend": null}, "order": {"field": "r", "sort": "descending"}}},
                    {"data": {"name": "obw"}, "transform": [{"filter": "datum.lab === 'OBW-l'"}],
                     "mark": {"type": "text", "align": "right", "baseline": "middle", "fontSize": 10.5, "dx": -1, "opacity": 0.85},
                     "encoding": {"x": {"field": "f", "type": "quantitative", "axis": {"title": null, "zindex": 2, "labelOverlap": false, "values": [5.555, 5.56, 5.57, 5.58, 5.59, 5.6, 5.605], "offset": -25, "labelExpr": "format(datum.value, '.3~f') + 'G'"}}, "y": {"field": "v", "type": "quantitative", "axis": {"title": null, "zindex": 2, "labelOverlap": false, "values": [-60, -55, -50, -45, -40, -35, -30, -25, -20, -15, -10, -5, 0, 5], "offset": -43}}, "text": {"field": "lab"}, "color": {"field": "port", "type": "nominal", "legend": null}}},
                    {"data": {"name": "obw"}, "transform": [{"filter": "datum.lab === 'OBW-h'"}],
                     "mark": {"type": "text", "align": "center", "baseline": "middle", "fontSize": 10.5, "opacity": 0.85},
                     "encoding": {"x": {"field": "f", "type": "quantitative", "axis": {"title": null, "zindex": 2, "labelOverlap": false, "values": [5.555, 5.56, 5.57, 5.58, 5.59, 5.6, 5.605], "offset": -25, "labelExpr": "format(datum.value, '.3~f') + 'G'"}}, "y": {"field": "v", "type": "quantitative", "axis": {"title": null, "zindex": 2, "labelOverlap": false, "values": [-60, -55, -50, -45, -40, -35, -30, -25, -20, -15, -10, -5, 0, 5], "offset": -43}}, "text": {"field": "lab"}, "color": {"field": "port", "type": "nominal", "legend": null}}},
                    {"data": {"values": [{}]}, "mark": {"type": "rule", "color": "#4d4d4d"},
                     "encoding": {"x": {"datum": 5.555, "type": "quantitative", "axis": {"title": null, "zindex": 2, "labelOverlap": false, "values": [5.555, 5.56, 5.57, 5.58, 5.59, 5.6, 5.605], "offset": -25, "labelExpr": "format(datum.value, '.3~f') + 'G'"}}, "y": {"datum": -60, "type": "quantitative", "axis": {"title": null, "zindex": 2, "labelOverlap": false, "values": [-60, -55, -50, -45, -40, -35, -30, -25, -20, -15, -10, -5, 0, 5], "offset": -43}}, "y2": {"datum": 5}}},
                    {"data": {"values": [{}]}, "mark": {"type": "rule", "color": "#4d4d4d"},
                     "encoding": {"y": {"datum": -60, "type": "quantitative", "axis": {"title": null, "zindex": 2, "labelOverlap": false, "values": [-60, -55, -50, -45, -40, -35, -30, -25, -20, -15, -10, -5, 0, 5], "offset": -43}}, "x": {"datum": 5.555, "type": "quantitative", "axis": {"title": null, "zindex": 2, "labelOverlap": false, "values": [5.555, 5.56, 5.57, 5.58, 5.59, 5.6, 5.605], "offset": -25, "labelExpr": "format(datum.value, '.3~f') + 'G'"}}, "x2": {"datum": 5.605}}}
                  ]}
                ]
              }
            ]
          },
          {
            "width": 560, "height": 173,
            "view": {"fill": "#dcdcdc", "stroke": "#a3a3a3", "cornerRadius": 5},
            "resolve": {"scale": {"x": "independent", "y": "independent"}},
            "layer": [
              {"data": {"values": [{}]}, "mark": {"type": "rect", "fill": "white"},
               "encoding": {"x": {"datum": 0.0196, "type": "quantitative", "scale": {"domain": [0, 1]}, "axis": null}, "x2": {"datum": 0.982}, "y": {"datum": 0.04, "type": "quantitative", "scale": {"domain": [0, 1]}, "axis": null}, "y2": {"datum": 0.954}}},
              {"layer": [
                {"data": {"name": "hdr"}, "transform": [{"fold": ["c1","c2","c3","c4","c5","c6","c7","c8"], "as": ["col", "txt"]}],
                 "mark": {"type": "rect", "fill": "white", "stroke": "#cccccc", "strokeWidth": 1},
                 "encoding": {"x": {"field": "col", "type": "nominal", "scale": {"type": "band", "domain": ["c1","c2","c3","c4","c5","c6","c7","c8"], "paddingInner": 0, "paddingOuter": 0.163}, "axis": null},
                   "y": {"field": "r", "type": "nominal", "scale": {"type": "band", "domain": ["h","1","2","3","4","5","6","7","8"], "paddingInner": 0, "paddingOuter": 0.689, "align": 0.348}, "axis": null}}},
                {"data": {"name": "tbl"}, "transform": [{"fold": ["c1","c2","c3","c4","c5","c6","c7","c8"], "as": ["col", "txt"]}],
                 "mark": {"type": "rect", "fill": "white", "stroke": "#d6d6d6", "strokeWidth": 1},
                 "encoding": {"x": {"field": "col", "type": "nominal"}, "y": {"field": "r", "type": "nominal"}}},
                {"data": {"name": "hdr"}, "transform": [{"fold": ["c1","c2","c3","c4","c5","c6","c7","c8"], "as": ["col", "txt"]}],
                 "mark": {"type": "text", "align": "left", "baseline": "middle", "dx": 5, "fontSize": 10.5, "color": "#1a1a1a"},
                 "encoding": {"x": {"field": "col", "type": "nominal", "bandPosition": 0}, "y": {"field": "r", "type": "nominal"}, "text": {"field": "txt"}}},
                {"data": {"name": "tbl"}, "transform": [{"fold": ["c1","c2","c3","c4","c5","c6","c7","c8"], "as": ["col", "txt"]}],
                 "mark": {"type": "text", "align": "left", "baseline": "middle", "dx": 5, "fontSize": 10.5, "color": "#1a1a1a"},
                 "encoding": {"x": {"field": "col", "type": "nominal", "bandPosition": 0}, "y": {"field": "r", "type": "nominal"}, "text": {"field": "txt"}}}
              ]}
            ]
          }
        ]
      }
    ]
  }
]
}
